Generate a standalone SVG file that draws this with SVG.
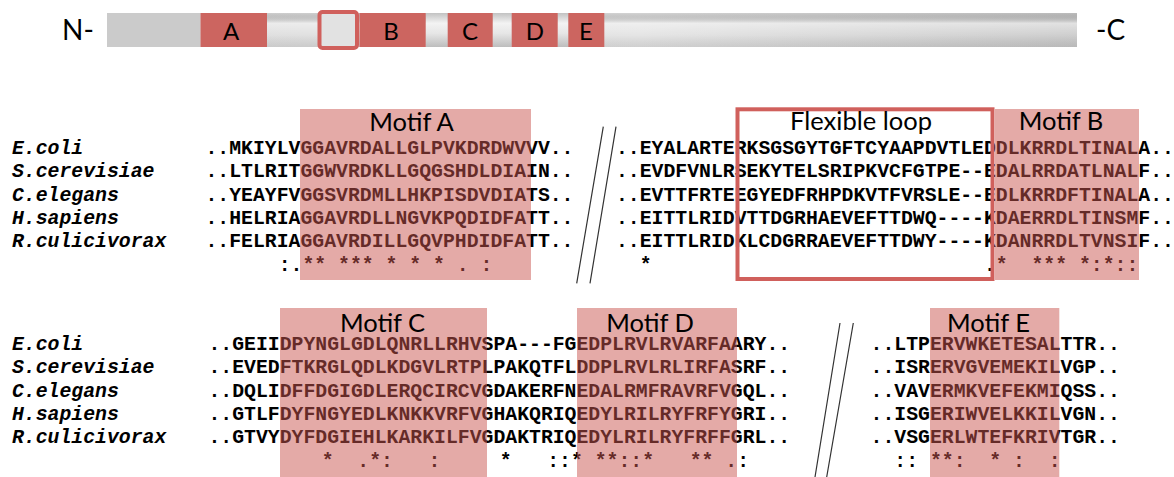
<svg xmlns="http://www.w3.org/2000/svg" width="1174" height="477" viewBox="0 0 1174 477">
<style>
.seq{font-family:"Liberation Mono","Courier New",monospace;font-weight:bold;font-size:19.8px;fill:#000;white-space:pre}
.sp{font-family:"Liberation Mono","Courier New",monospace;font-weight:bold;font-style:italic;font-size:19.8px;fill:#000}
.lbl{font-family:Lato,"Open Sans","Liberation Sans",sans-serif;font-size:25.5px;fill:#000;text-anchor:middle}
.bl{font-family:Lato,"Open Sans","Liberation Sans",sans-serif;font-size:24px;fill:#000;text-anchor:middle}
.end{font-family:Lato,"Open Sans","Liberation Sans",sans-serif;font-size:28px;fill:#000}
.dom{fill:#CC6560}
.motif{fill:#C9554F;fill-opacity:0.5}
.loop{fill:none;stroke:#D0605C;stroke-width:4}
.brk{stroke:#333;stroke-width:1.2;fill:none}
.gap{fill:url(#cyl)}
</style>
<defs>
<linearGradient id="hbar" x1="0" y1="0" x2="1" y2="0">
<stop offset="0" stop-color="#DADADA"/>
<stop offset="0.55" stop-color="#E2E2E2"/>
<stop offset="1" stop-color="#C9C9C9"/>
</linearGradient>
<linearGradient id="gloss" x1="0" y1="0" x2="0" y2="1">
<stop offset="0" stop-color="#000" stop-opacity="0.06"/>
<stop offset="0.3" stop-color="#fff" stop-opacity="0.45"/>
<stop offset="0.65" stop-color="#fff" stop-opacity="0.1"/>
<stop offset="1" stop-color="#000" stop-opacity="0.08"/>
</linearGradient>
<linearGradient id="cyl" x1="0" y1="0" x2="0" y2="1">
<stop offset="0" stop-color="#C2C2C2"/>
<stop offset="0.3" stop-color="#F3F3F3"/>
<stop offset="0.6" stop-color="#E6E6E6"/>
<stop offset="1" stop-color="#BDBDBD"/>
</linearGradient>
</defs>
<rect width="1174" height="477" fill="#fff"/>

<g id="protein-bar">
<rect x="107" y="13" width="970" height="34" fill="url(#hbar)"/>
<rect x="267" y="13" width="810" height="34" fill="url(#gloss)"/>
<rect x="107" y="13" width="93" height="34" fill="#CBCBCB"/>
<rect class="gap" x="425.7" y="13" width="22" height="34"/>
<rect class="gap" x="492.7" y="13" width="19" height="34"/>
<rect class="gap" x="557.7" y="13" width="10.6" height="34"/>
<text class="end" x="62" y="39.5">N-</text>
<text class="end" x="1096" y="39.5">-C</text>
</g>
<g id="domain-A"><rect class="dom" x="200.5" y="13" width="66.5" height="34"/><text class="bl" x="231" y="39.5">A</text></g>
<g id="loop-marker"><rect x="319.5" y="12" width="37.5" height="36" rx="3" fill="#E2E2E2" stroke="#D0605C" stroke-width="4"/></g>
<g id="domain-B"><rect class="dom" x="359.5" y="13" width="66.2" height="34"/><text class="bl" x="391" y="39.5">B</text></g>
<g id="domain-C"><rect class="dom" x="447.7" y="13" width="45" height="34"/><text class="bl" x="470" y="39.5">C</text></g>
<g id="domain-D"><rect class="dom" x="511.7" y="13" width="46" height="34"/><text class="bl" x="535" y="39.5">D</text></g>
<g id="domain-E"><rect class="dom" x="568.3" y="13" width="36" height="34"/><text class="bl" x="586" y="39.5">E</text></g>

<g id="block1">
<text class="sp" x="12" y="154">E.coli</text>
<text class="sp" x="12" y="177.3">S.cerevisiae</text>
<text class="sp" x="12" y="200.7">C.elegans</text>
<text class="sp" x="12" y="224">H.sapiens</text>
<text class="sp" x="12" y="247.3">R.culicivorax</text>
<text class="seq" x="205.5" y="154">..MKIYLVGGAVRDALLGLPVKDRDWVVV..</text>
<text class="seq" x="205.5" y="177.3">..LTLRITGGWVRDKLLGQGSHDLDIAIN..</text>
<text class="seq" x="205.5" y="200.7">..YEAYFVGGSVRDMLLHKPISDVDIATS..</text>
<text class="seq" x="205.5" y="224">..HELRIAGGAVRDLLNGVKPQDIDFATT..</text>
<text class="seq" x="205.5" y="247.3">..FELRIAGGAVRDILLGQVPHDIDFATT..</text>
<text class="seq" x="207.5" y="271" xml:space="preserve">      :.** *** * * * . :</text>
<text class="seq" x="616" y="154">..EYALARTERKSGSGYTGFTCYAAPDVTLEDDLKRRDLTINALA..</text>
<text class="seq" x="616" y="177.3">..EVDFVNLRSEKYTELSRIPKVCFGTPE--EDALRRDATLNALF..</text>
<text class="seq" x="616" y="200.7">..EVTTFRTEEGYEDFRHPDKVTFVRSLE--EDLKRRDFTINALA..</text>
<text class="seq" x="616" y="224">..EITTLRIDVTTDGRHAEVEFTTDWQ----KDAERRDLTINSMF..</text>
<text class="seq" x="616" y="247.3">..EITTLRIDKLCDGRRAEVEFTTDWY----KDANRRDLTVNSIF..</text>
<text class="seq" x="616" y="271" xml:space="preserve">  *                            .*  *** *:*::</text>
<path class="brk" d="M603.3 126.7 L576.7 283.3 M616 126.7 L590 283.3"/>
</g>
<g id="motif-A"><rect class="motif" x="300" y="109" width="231" height="171"/><text class="lbl" x="411.5" y="131">Motif A</text></g>
<g id="motif-B"><rect class="motif" x="995" y="109" width="144" height="171"/><text class="lbl" x="1061" y="130">Motif B</text></g>
<g id="flexible-loop"><rect class="loop" x="737.5" y="109.3" width="255" height="169.7"/><text class="lbl" x="861" y="130">Flexible loop</text></g>

<g id="block2">
<text class="sp" x="12" y="350">E.coli</text>
<text class="sp" x="12" y="373.3">S.cerevisiae</text>
<text class="sp" x="12" y="396.7">C.elegans</text>
<text class="sp" x="12" y="420">H.sapiens</text>
<text class="sp" x="12" y="443.3">R.culicivorax</text>
<text class="seq" x="208.5" y="350">..GEIIDPYNGLGDLQNRLLRHVSPA---FGEDPLRVLRVARFAARY..</text>
<text class="seq" x="208.5" y="373.3">..EVEDFTKRGLQDLKDGVLRTPLPAKQTFLDDPLRVLRLIRFASRF..</text>
<text class="seq" x="208.5" y="396.7">..DQLIDFFDGIGDLERQCIRCVGDAKERFNEDALRMFRAVRFVGQL..</text>
<text class="seq" x="208.5" y="420">..GTLFDYFNGYEDLKNKKVRFVGHAKQRIQEDYLRILRYFRFYGRI..</text>
<text class="seq" x="208.5" y="443.3">..GTVYDYFDGIEHLKARKILFVGDAKTRIQEDYLRILRYFRFFGRL..</text>
<text class="seq" x="203" y="467" xml:space="preserve">          *  .*:   :     *   ::* **::*   ** .:</text>
<text class="seq" x="870.6" y="350">..LTPERVWKETESALTTR..</text>
<text class="seq" x="870.6" y="373.3">..ISRERVGVEMEKILVGP..</text>
<text class="seq" x="870.6" y="396.7">..VAVERMKVEFEKMIQSS..</text>
<text class="seq" x="870.6" y="420">..ISGERIWVELKKILVGN..</text>
<text class="seq" x="870.6" y="443.3">..VSGERLWTEFKRIVTGR..</text>
<text class="seq" x="870.6" y="467" xml:space="preserve">  :: **:  * :  :</text>
<path class="brk" d="M840 323 L815 477 M853.3 323 L826.7 477"/>
</g>
<g id="motif-C"><rect class="motif" x="280" y="308" width="207" height="169"/><text class="lbl" x="382.5" y="331.5">Motif C</text></g>
<g id="motif-D"><rect class="motif" x="577" y="308" width="160" height="169"/><text class="lbl" x="650" y="331.5">Motif D</text></g>
<g id="motif-E"><rect class="motif" x="930" y="308" width="129.3" height="169"/><text class="lbl" x="988.5" y="331.5">Motif E</text></g>
</svg>
